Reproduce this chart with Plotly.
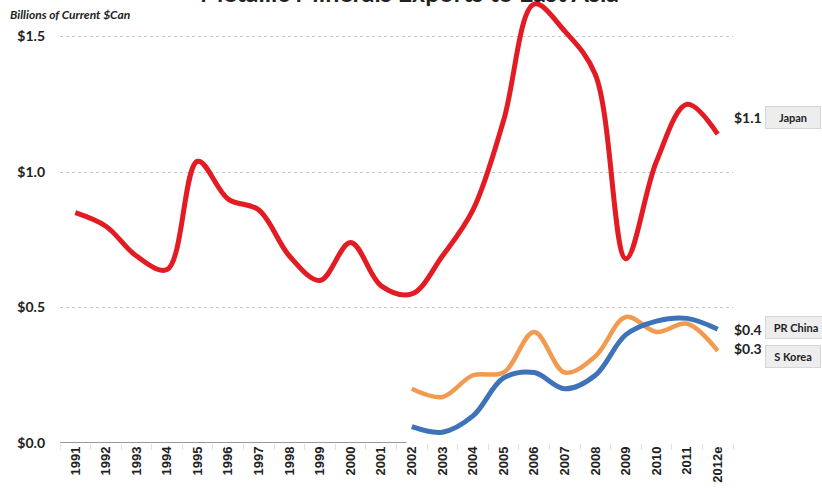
import plotly.graph_objects as go

years = ["1991", "1992", "1993", "1994", "1995", "1996", "1997", "1998", "1999", "2000", "2001",
         "2002", "2003", "2004", "2005", "2006", "2007", "2008", "2009", "2010", "2011", "2012e"]
japan = [0.85, 0.80, 0.69, 0.64, 1.04, 0.90, 0.86, 0.69, 0.60, 0.74, 0.58,
         0.55, 0.69, 0.86, 1.19, 1.62, 1.52, 1.36, 0.68, 1.04, 1.25, 1.14]
china_years = years[11:]
china = [0.06, 0.04, 0.10, 0.24, 0.26, 0.20, 0.25, 0.40, 0.45, 0.46, 0.42]
korea = [0.20, 0.17, 0.25, 0.26, 0.41, 0.26, 0.32, 0.465, 0.41, 0.44, 0.34]
ytick_vals = [0.0, 0.5, 1.0, 1.5]
ytick_text = ["$0.0", "$0.5", "$1.0", "$1.5"]

RED = "#e31b23"
BLUE = "#3f73b9"
ORANGE = "#f29a4f"
BOLD = "Lato, 'Open Sans', sans-serif"

fig = go.Figure()
fig.add_trace(go.Scatter(x=china_years, y=korea, mode="lines", name="S Korea",
                         line=dict(color=ORANGE, width=4.5, shape="spline", smoothing=1.0)))
fig.add_trace(go.Scatter(x=china_years, y=china, mode="lines", name="PR China",
                         line=dict(color=BLUE, width=5, shape="spline", smoothing=1.0)))
fig.add_trace(go.Scatter(x=years, y=japan, mode="lines", name="Japan",
                         line=dict(color=RED, width=5, shape="spline", smoothing=1.0)))

fig.update_layout(
    width=822, height=493,
    margin=dict(l=60, r=89, t=0, b=50),
    paper_bgcolor="white", plot_bgcolor="white",
    showlegend=False,
    xaxis=dict(type="category", categoryarray=years, range=[-0.5, 21.5], automargin=False,
               showgrid=False, zeroline=False, showline=False,
               ticks="outside", ticklen=6, tickcolor="#e2e2e2", tickson="boundaries",
               tickangle=-90,
               tickfont=dict(family="Liberation Sans", size=13, color="#222222", weight="bold")),
    yaxis=dict(range=[0, 1.635], tickvals=ytick_vals, ticktext=ytick_text, automargin=False,
               showgrid=True, gridcolor="#c8c8c8", griddash="dot", gridwidth=1,
               zeroline=False, showline=False, ticks="", ticklabelstandoff=14,
               tickfont=dict(family=BOLD, size=14, color="#222222", weight="bold")),
)

# baseline drawn only under the early years, as in the original
fig.add_shape(type="line", xref="paper", yref="y", x0=0, x1=0.515, y0=0, y1=0,
              line=dict(color="#777777", width=1.5))

# partially cut-off title
fig.add_annotation(text="<b>Metallic Minerals Exports to East Asia</b>", xref="paper", yref="paper",
                   x=0.52, y=1.0, yanchor="middle", showarrow=False, yshift=8,
                   font=dict(family=BOLD, size=25, color="#222222"))
fig.add_annotation(text="<b><i>Billions of Current $Can</i></b>", xref="paper", yref="paper",
                   x=-0.078, y=1.0, xanchor="left", yanchor="top", showarrow=False, yshift=-5,
                   font=dict(family=BOLD, size=12, color="#222222"))

# end labels
labels = [("$1.1", "Japan", 1.2, 1.2, 46), ("$0.4", "PR China", 0.42, 0.428, 52),
          ("$0.3", "S Korea", 0.35, 0.318, 46)]
for val, name, yv, yn, w in labels:
    fig.add_annotation(text="<b>" + val + "</b>", xref="paper", yref="y", x=1.0, y=yv, xanchor="left",
                       showarrow=False, xshift=-1,
                       font=dict(family=BOLD, size=14, color="#222222"))
    fig.add_annotation(text="<b>" + name + "</b>", xref="paper", yref="y", x=1.0, y=yn, xanchor="left",
                       showarrow=False, xshift=32, width=w, align="center",
                       bgcolor="#ededed", bordercolor="#d6d6d6", borderwidth=1, borderpad=4,
                       font=dict(family=BOLD, size=11, color="#222222"))

# the page's default body margin would shift the chart; remove it
fig.write_html("out.html", config={"displayModeBar": False},
               post_script="document.body.style.margin='0';")
